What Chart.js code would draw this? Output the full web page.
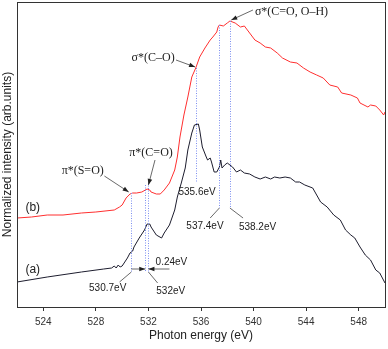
<!DOCTYPE html>
<html><head><meta charset="utf-8">
<script src="https://cdn.jsdelivr.net/npm/chart.js@4/dist/chart.umd.min.js"></script>
<style>html,body{margin:0;padding:0;background:#fff}#wrap{width:388px;height:349px}</style>
</head><body><div id="wrap"><canvas id="c" width="388" height="349"></canvas></div>
<script>
// Photon energy (eV) and normalized intensity (arb. units)
const energyA = [522.0,524.3,526.9,528.6,529.2,529.4,529.55,529.7,529.85,530.0,530.2,530.4,530.6,530.8,530.9,531.3,531.7,531.9,532.1,532.2,532.6,533.0,533.2,533.6,534.0,534.2,534.5,534.8,535.0,535.3,535.5,535.8,535.9,536.1,536.4,536.5,536.7,536.8,537.0,537.2,537.4,537.5,537.6,537.8,538.0,538.4,538.7,539.0,539.3,539.7,540.1,540.5,540.9,541.3,541.6,542.0,542.4,542.8,543.2,543.5,543.9,544.5,544.8,545.1,545.6,546.1,546.6,547.0,547.4,547.7,548.1,548.5,548.9,549.3,549.6,550.0];
const intensityA = [25,30,35,38,39,41,39,42,40,41,45,49,54,56,60,69,77,83,83,80,72,69,74,82,97,110,124,139,157,174,182,183,177,160,150,147,149,145,135,135,140,147,139,142,144,140,135,137,134,133,130,128,130,128,130,129,130,129,125,125,122,119,112,105,100,92,87,77,72,69,60,52,47,37,34,24];
const energyB = [522.0,523.1,524.3,525.5,526.9,528.0,529.4,529.8,530.0,530.3,530.6,530.8,531.1,531.5,531.9,532.1,532.2,532.6,532.9,533.2,533.6,534.0,534.2,534.4,534.7,535.0,535.3,535.6,535.9,536.3,536.7,536.9,537.2,537.3,537.4,537.7,538.0,538.2,538.6,539.0,539.3,539.7,540.1,540.5,540.9,541.3,541.8,542.2,542.8,543.3,543.8,544.3,544.8,545.3,545.8,546.4,546.7,547.4,547.9,548.1,548.7,548.9,549.3,549.6,549.9,550.0];
const intensityB = [89,90,92,92,94,95,97,100,102,109,113,114,114,115,118,117,115,113,113,117,124,137,150,170,192,210,230,239,250,259,267,270,275,280,282,281,284,286,284,280,281,274,267,264,260,259,254,249,245,244,239,235,232,229,222,220,214,212,209,204,200,202,201,197,192,195];
const tickValues = [524,528,532,536,540,544,548];
const tickLabels = ['524','528','532','536','540','544','548'];
const seriesLabels = ['(a)','(b)'];

// Annotations: dotted marker lines (energy, from, to)
const markerE = [530.7, 531.76, 532.0, 535.6, 537.4, 538.2];
const markerTop = [114, 122, 124, 239, 282, 286];
const markerBottom = [35, 35, 35, 125, 99, 99];
const peakLabels = ['530.7eV','532eV','0.24eV','535.6eV','537.4eV','538.2eV'];
const peakLabelE = [528.9, 533.7, 533.75, 535.7, 536.3, 540.3];
const peakLabelV = [19, 16, 45, 115, 81, 80];
const stateLabels = ['σ*(C=O, O–H)','σ*(C–O)','π*(C=O)','π*(S=O)'];

const ptsA = energyA.map((e,i)=>({x:e,y:intensityA[i]}));
const ptsB = energyB.map((e,i)=>({x:e,y:intensityB[i]}));

const SANS = '"Liberation Sans", Arial, sans-serif';
const SERIF = '"Liberation Serif", "DejaVu Serif", serif';

function arrow(ctx, x1, y1, x2, y2, head) {
  ctx.beginPath(); ctx.moveTo(x1,y1); ctx.lineTo(x2,y2); ctx.stroke();
  if (head) {
    const a = Math.atan2(y2-y1, x2-x1), L = 6, W = 2.3;
    ctx.beginPath();
    ctx.moveTo(x2,y2);
    ctx.lineTo(x2 - L*Math.cos(a) + W*Math.sin(a), y2 - L*Math.sin(a) - W*Math.cos(a));
    ctx.lineTo(x2 - L*Math.cos(a) - W*Math.sin(a), y2 - L*Math.sin(a) + W*Math.cos(a));
    ctx.closePath(); ctx.fill();
  }
}

const annot = {
  id: 'annot',
  afterDatasetsDraw(chart) {
    const ctx = chart.ctx, X = chart.scales.x, Y = chart.scales.y;
    const px = e => X.getPixelForValue(e), py = v => Y.getPixelForValue(v);
    const a = chart.chartArea;
    ctx.save();
    // frame
    ctx.strokeStyle = '#333'; ctx.lineWidth = 1; ctx.setLineDash([]);
    ctx.strokeRect(Math.round(a.left)+0.5, Math.round(a.top)+0.5, Math.round(a.right-a.left), Math.round(a.bottom-a.top));
    // dotted markers
    ctx.strokeStyle = '#7d8ff0'; ctx.lineWidth = 1; ctx.setLineDash([1,1.5]);
    markerE.forEach((e,i)=>{
      const x = Math.round(px(e))+0.5;
      ctx.beginPath(); ctx.moveTo(x, py(markerTop[i])); ctx.lineTo(x, py(markerBottom[i])); ctx.stroke();
    });
    ctx.setLineDash([]);
    // leaders
    ctx.strokeStyle = '#444'; ctx.fillStyle = '#222'; ctx.lineWidth = 0.8;
    arrow(ctx, px(530.7), py(35), px(529.8), py(25), false);
    arrow(ctx, px(532.0), py(35), px(532.7), py(24), false);
    arrow(ctx, px(537.4), py(99), px(536.7), py(89), false);
    arrow(ctx, px(538.2), py(99), px(539.2), py(89), false);
    // 0.24 eV arrows
    arrow(ctx, px(530.7), py(38), px(531.76), py(38), true);
    arrow(ctx, px(533.6), py(38), px(532.0), py(38), true);
    // state arrows
    arrow(ctx, px(539.95), py(297), px(538.3), py(287), true);
    arrow(ctx, px(534.1), py(247), px(535.55), py(240), true);
    arrow(ctx, px(532.5), py(147), px(532.0), py(122), true);
    arrow(ctx, px(528.65), py(131), px(530.5), py(115), true);
    // peak labels
    ctx.fillStyle = '#222'; ctx.textAlign = 'center'; ctx.textBaseline = 'middle';
    ctx.font = '10px ' + SANS;
    peakLabels.forEach((t,i)=> ctx.fillText(t, px(peakLabelE[i]), py(peakLabelV[i])));
    // state labels
    ctx.font = '12px ' + SERIF;
    ctx.textAlign = 'left';
    ctx.fillText(stateLabels[0], px(540.1), py(295));
    ctx.textAlign = 'right';
    ctx.fillText(stateLabels[1], px(534.0), py(249));
    ctx.textAlign = 'center';
    ctx.fillText(stateLabels[2], px(532.2), py(154));
    ctx.fillText(stateLabels[3], px(527.0), py(136));
    // series labels
    ctx.font = '12px ' + SANS;
    ctx.fillText(seriesLabels[1], px(523.2), py(99));
    ctx.fillText(seriesLabels[0], px(523.2), py(37));
    ctx.restore();
  }
};

new Chart(document.getElementById('c'), {
  type: 'line',
  data: { datasets: [
    { label: seriesLabels[0], data: ptsA, borderColor: '#1d1d2e', borderWidth: 1, pointRadius: 0, tension: 0, fill: false },
    { label: seriesLabels[1], data: ptsB, borderColor: '#ff2f2f', borderWidth: 1, pointRadius: 0, tension: 0, fill: false }
  ]},
  options: {
    responsive: false, animation: false, devicePixelRatio: 1,
    layout: { padding: { top: 2, right: 3, left: 0, bottom: 0 } },
    plugins: { legend: { display: false }, tooltip: { enabled: false } },
    scales: {
      x: {
        type: 'linear', min: 522, max: 550,
        afterBuildTicks: s => { s.ticks = tickValues.map(v => ({ value: v })); },
        afterFit: s => { s.height = 42; },
        ticks: { callback: (v) => tickLabels[tickValues.indexOf(v)], font: { family: SANS, size: 10 }, color: '#333', padding: 5, maxRotation: 0 },
        grid: { display: true, drawOnChartArea: false, drawTicks: true, tickLength: 4, color: '#333' },
        border: { display: false },
        title: { display: true, text: 'Photon energy (eV)', font: { family: SANS, size: 12 }, color: '#222', padding: { top: 0, bottom: 6 } }
      },
      y: {
        type: 'linear', min: 0, max: 305,
        afterFit: s => { s.width = 17; },
        ticks: { display: false },
        grid: { display: false, drawTicks: false },
        border: { display: false },
        title: { display: true, text: 'Normalized intensity (arb.units)', font: { family: SANS, size: 12 }, color: '#222', padding: { top: 0, bottom: 0 } }
      }
    }
  },
  plugins: [annot]
});
</script>
</body></html>
